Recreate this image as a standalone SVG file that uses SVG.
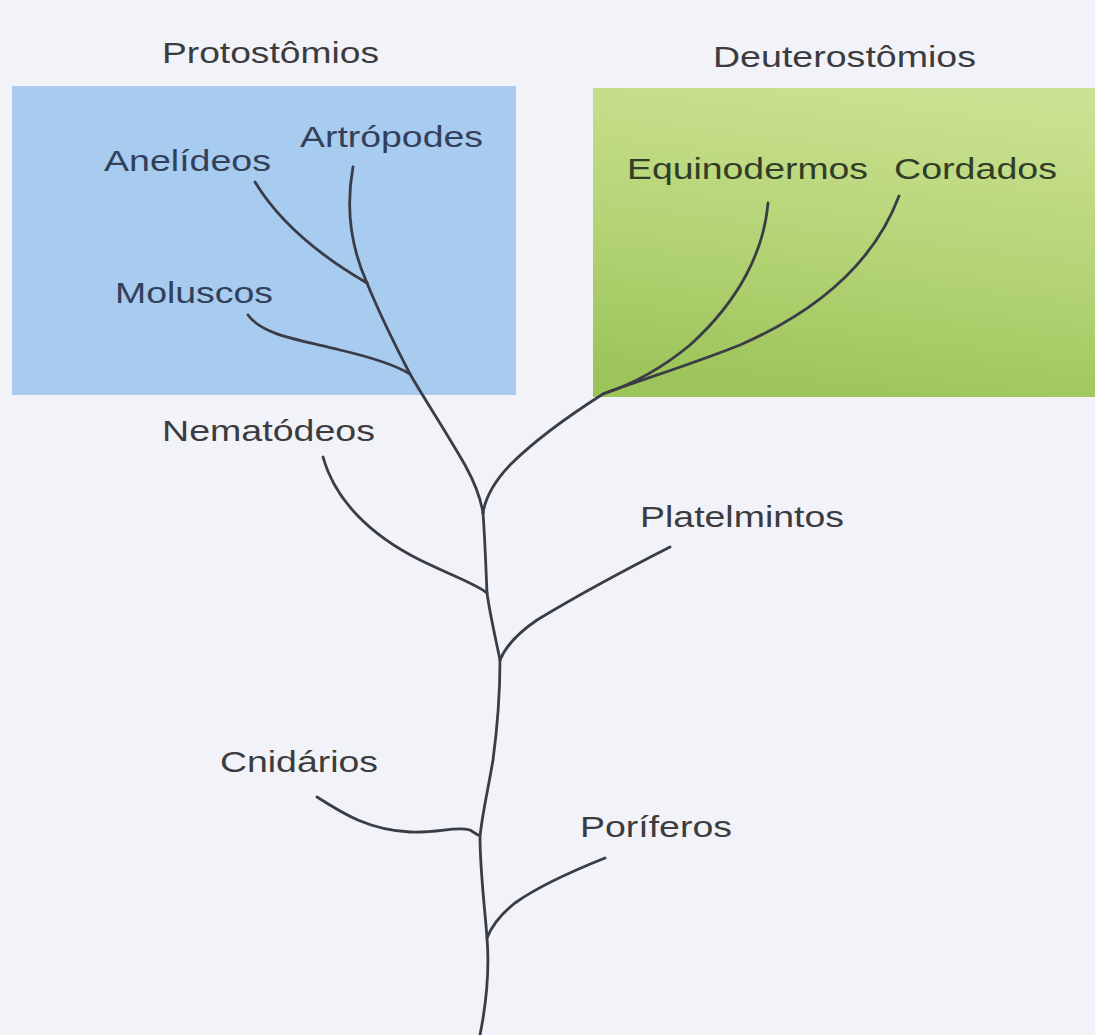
<svg xmlns="http://www.w3.org/2000/svg" width="1095" height="1035" viewBox="0 0 1095 1035">
<style>
text{font-family:"Liberation Sans",Arial,sans-serif;font-size:30px;}
.t{fill:#3c3c40;}
.b{fill:#33405a;}
.g{fill:#313d26;}
.br{fill:none;stroke:#3a3c47;stroke-width:2.8;stroke-linecap:round;stroke-linejoin:round;}
</style>
<defs>
<linearGradient id="gr" x1="0.6" y1="0" x2="0.4" y2="1">
<stop offset="0" stop-color="#cbe191"/>
<stop offset="0.55" stop-color="#b3d374"/>
<stop offset="1" stop-color="#9cc45a"/>
</linearGradient>
</defs>
<rect width="1095" height="1035" fill="#f2f3f8"/>
<g id="protostomios">
<rect x="12" y="86" width="504" height="309" fill="#a8cbf0"/>
<text class="t" x="162" y="63" textLength="217" lengthAdjust="spacingAndGlyphs">Protostômios</text>
</g>
<g id="deuterostomios">
<rect x="593" y="88" width="502" height="309" fill="url(#gr)"/>
<text class="t" x="713" y="67" textLength="263" lengthAdjust="spacingAndGlyphs">Deuterostômios</text>
</g>
<g id="anelideos"><text class="b" x="104" y="171" textLength="167" lengthAdjust="spacingAndGlyphs">Anelídeos</text></g>
<g id="artropodes"><text class="b" x="300" y="147" textLength="183" lengthAdjust="spacingAndGlyphs">Artrópodes</text></g>
<g id="moluscos"><text class="b" x="115" y="303" textLength="158" lengthAdjust="spacingAndGlyphs">Moluscos</text></g>
<g id="equinodermos"><text class="g" x="627" y="179" textLength="241" lengthAdjust="spacingAndGlyphs">Equinodermos</text></g>
<g id="cordados"><text class="g" x="894" y="179" textLength="163" lengthAdjust="spacingAndGlyphs">Cordados</text></g>
<g id="nematodeos"><text class="t" x="162" y="441" textLength="213" lengthAdjust="spacingAndGlyphs">Nematódeos</text></g>
<g id="platelmintos"><text class="t" x="640" y="527" textLength="204" lengthAdjust="spacingAndGlyphs">Platelmintos</text></g>
<g id="cnidarios"><text class="t" x="220" y="772" textLength="158" lengthAdjust="spacingAndGlyphs">Cnidários</text></g>
<g id="poriferos"><text class="t" x="580" y="837" textLength="152" lengthAdjust="spacingAndGlyphs">Poríferos</text></g>
<g id="connectors">
<path class="br" d="M255,182 C275,215 310,250 367,283"/>
<path class="br" d="M353,167 C346,205 350,245 367,283"/>
<path class="br" d="M248,315 C262,335 300,340 340,350 C370,357 395,365 410,374"/>
<path class="br" d="M367,283 C380,315 395,345 410,374 C425,400 445,430 465,465 C476,485 481,500 483,513"/>
<path class="br" d="M768,203 C764,250 740,300 690,345 C660,370 630,385 603,394"/>
<path class="br" d="M899,196 C875,260 820,310 740,345 C690,365 640,380 603,394"/>
<path class="br" d="M603,394 C570,415 535,440 510,465 C493,483 485,500 483,513"/>
<path class="br" d="M323,457 C335,500 370,535 420,560 C455,577 478,585 487,593"/>
<path class="br" d="M670,547 C615,575 570,600 537,620 C515,635 505,648 500,660"/>
<path class="br" d="M317,797 C345,815 370,830 410,832 C440,833 455,826 470,830 L478,835"/>
<path class="br" d="M605,858 C575,870 540,885 515,903 C500,915 492,925 487,938"/>
<path class="br" d="M483,513 C485,540 486,570 487,593 C490,615 496,640 500,660 C500,700 497,730 493,760 C488,790 482,815 480,837 C480,870 485,910 487,938 C490,975 486,1005 480,1035"/>
</g>
</svg>
